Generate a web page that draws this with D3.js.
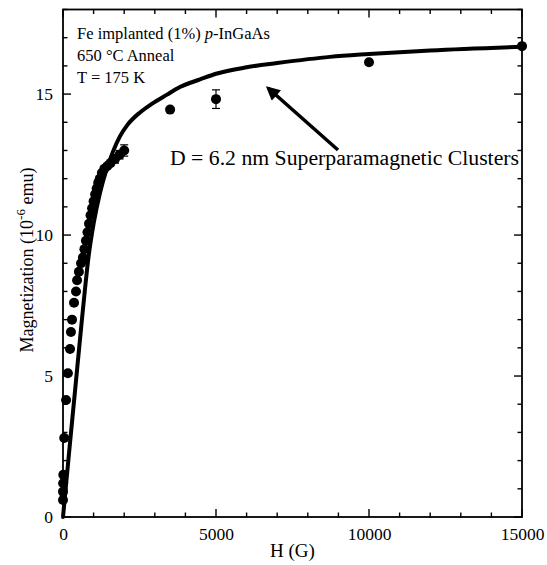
<!DOCTYPE html>
<html>
<head>
<meta charset="utf-8">
<script src="https://cdn.jsdelivr.net/npm/d3@7"></script>
<style>
  body { margin: 0; background: #fff; }
  text { font-family: "Liberation Serif", "Times New Roman", serif; fill: #000; }
</style>
</head>
<body>
<svg id="chart"></svg>
<script>
// measured points (H in G, M in 1e-6 emu)
var fieldH = [0, 0, 5, 10, 40, 100, 160, 230, 260, 295, 360, 425, 460, 520, 590, 650, 700, 750,
  800, 850, 900, 950, 1000, 1050, 1100, 1150, 1200, 1270, 1350, 1450, 1550, 1700, 1850, 2000,
  3500, 5000, 10000, 15000];
var magM = [0.6, 0.9, 1.2, 1.5, 2.8, 4.15, 5.1, 5.96, 6.56, 7.0, 7.6, 8.0, 8.4, 8.7, 9.0, 9.2, 9.5, 9.8,
  10.1, 10.4, 10.7, 10.95, 11.2, 11.45, 11.65, 11.85, 12.0, 12.2, 12.35, 12.45, 12.55, 12.7, 12.85, 13.0,
  14.45, 14.82, 16.13, 16.7];
// error bars (index into the arrays above, half-height)
var errIndex = [31, 32, 33, 35];
var errSize = [0.15, 0.15, 0.2, 0.33];

// superparamagnetic fit curve
var fitH = [0, 200, 400, 600, 720, 820, 1000, 1210, 1400, 1630, 1860, 2100, 2516, 2900, 3400, 3820,
  4480, 5000, 6000, 7000, 8725, 10000, 12000, 15000];
var fitM = [0, 2.3, 4.55, 6.8, 8.1, 9.1, 10.4, 11.5, 12.25, 12.95, 13.5, 13.9, 14.35, 14.65, 14.98, 15.25,
  15.52, 15.72, 15.95, 16.1, 16.32, 16.42, 16.55, 16.68];

var xTicks = [0, 5000, 10000, 15000];
var yTicks = [0, 5, 10, 15];

var width = 547, height = 565;
var margin = {top: 9.5, right: 25, bottom: 48, left: 63};
var svg = d3.select("#chart").attr("width", width).attr("height", height);

var x = d3.scaleLinear().domain([0, 15000]).range([margin.left, width - margin.right]);
var y = d3.scaleLinear().domain([0, 18]).range([height - margin.bottom, margin.top]);

var minorX = d3.range(0, 15001, 1000);
var minorY = d3.range(0, 19, 1);

// frame
svg.append("rect")
    .attr("x", x(0)).attr("y", y(18))
    .attr("width", x(15000) - x(0)).attr("height", y(0) - y(18))
    .attr("fill", "none").attr("stroke", "#000").attr("stroke-width", 1.8);

// inward ticks on all four sides
function tickLen(major) { return major ? 8 : 4.5; }
var ticks = svg.append("g").attr("stroke", "#000").attr("stroke-width", 1.4);
minorX.forEach(function(v) {
  var L = tickLen(v % 5000 === 0);
  ticks.append("line").attr("x1", x(v)).attr("x2", x(v)).attr("y1", y(0)).attr("y2", y(0) - L);
  ticks.append("line").attr("x1", x(v)).attr("x2", x(v)).attr("y1", y(18)).attr("y2", y(18) + L);
});
minorY.forEach(function(v) {
  var L = tickLen(v % 5 === 0);
  ticks.append("line").attr("x1", x(0)).attr("x2", x(0) + L).attr("y1", y(v)).attr("y2", y(v));
  ticks.append("line").attr("x1", x(15000)).attr("x2", x(15000) - L).attr("y1", y(v)).attr("y2", y(v));
});

// tick labels via d3 axes, tick lines hidden
var xAxis = svg.append("g")
    .attr("transform", "translate(0," + y(0) + ")")
    .call(d3.axisBottom(x).tickValues(xTicks).tickSize(0).tickPadding(11).tickFormat(d3.format("d")));
var yAxis = svg.append("g")
    .attr("transform", "translate(" + x(0) + ",0)")
    .call(d3.axisLeft(y).tickValues(yTicks).tickSize(0).tickPadding(10));
[xAxis, yAxis].forEach(function(a) {
  a.select(".domain").remove();
  a.selectAll("text").style("font-size", "17.5px").attr("fill", "#000")
    .style("font-family", "'Liberation Serif', serif");
});

// axis titles
svg.append("text")
    .attr("x", (x(0) + x(15000)) / 2)
    .attr("y", 557)
    .attr("text-anchor", "middle")
    .style("font-size", "19px")
    .text("H (G)");

var yt = svg.append("text")
    .attr("transform", "translate(33," + 260 + ") rotate(-90)")
    .attr("text-anchor", "middle")
    .style("font-size", "18px");
yt.append("tspan").text("Magnetization (10");
yt.append("tspan").attr("dy", -8).style("font-size", "13px").text("-6");
yt.append("tspan").attr("dy", 8).text(" emu)");

// fit line
var fitData = fitH.map(function(h, i) { return {h: h, m: fitM[i]}; });
var line = d3.line()
    .x(function(d) { return x(d.h); })
    .y(function(d) { return y(d.m); })
    .curve(d3.curveMonotoneX);
svg.append("path")
    .datum(fitData)
    .attr("d", line)
    .attr("fill", "none")
    .attr("stroke", "#000")
    .attr("stroke-width", 4)
    .attr("stroke-linecap", "round");

// error bars
var eb = svg.append("g").attr("stroke", "#000").attr("stroke-width", 1.2);
errIndex.forEach(function(k, i) {
  var cx = x(fieldH[k]), lo = y(magM[k] - errSize[i]), hi = y(magM[k] + errSize[i]);
  eb.append("line").attr("x1", cx).attr("x2", cx).attr("y1", lo).attr("y2", hi);
  eb.append("line").attr("x1", cx - 4).attr("x2", cx + 4).attr("y1", lo).attr("y2", lo);
  eb.append("line").attr("x1", cx - 4).attr("x2", cx + 4).attr("y1", hi).attr("y2", hi);
});

// data points
svg.append("g").selectAll("circle")
    .data(fieldH)
    .enter().append("circle")
    .attr("cx", function(d) { return x(d); })
    .attr("cy", function(d, i) { return y(magM[i]); })
    .attr("r", 5)
    .attr("fill", "#000");

// legend text
var info = svg.append("text").attr("x", 77).attr("y", 39).style("font-size", "16.5px");
info.append("tspan").text("Fe implanted (1%) ");
info.append("tspan").style("font-style", "italic").text("p");
info.append("tspan").text("-InGaAs");
svg.append("text").attr("x", 77).attr("y", 61).style("font-size", "16.5px").text("650 \u00B0C Anneal");
svg.append("text").attr("x", 77).attr("y", 82.5).style("font-size", "16.5px").text("T = 175 K");

// annotation with arrow
svg.append("defs").append("marker")
    .attr("id", "head")
    .attr("viewBox", "0 0 10 10")
    .attr("refX", 8).attr("refY", 5)
    .attr("markerWidth", 4.5).attr("markerHeight", 4)
    .attr("orient", "auto")
    .append("path").attr("d", "M0,0 L10,5 L0,10 Z").attr("fill", "#000");
svg.append("line")
    .attr("x1", 338).attr("y1", 150)
    .attr("x2", 268).attr("y2", 88)
    .attr("stroke", "#000").attr("stroke-width", 3.5)
    .attr("marker-end", "url(#head)");
svg.append("text").attr("x", 170).attr("y", 165).style("font-size", "20px")
    .attr("textLength", 349).attr("lengthAdjust", "spacingAndGlyphs")
    .text("D = 6.2 nm Superparamagnetic Clusters");
</script>
</body>
</html>
